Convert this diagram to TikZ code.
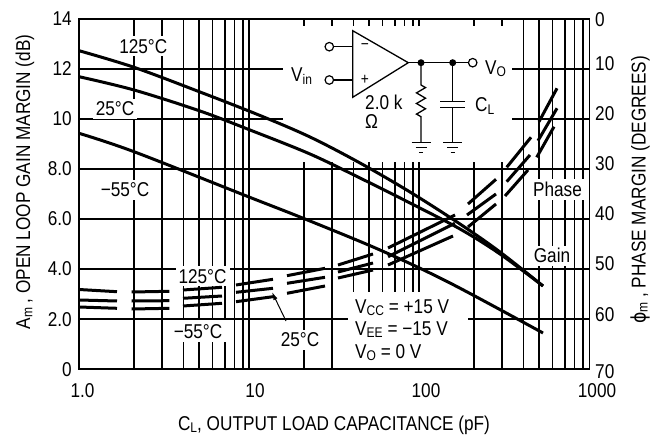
\documentclass[tikz,border=0pt]{standalone}
\usepackage{fontspec}
\setmainfont{Liberation Sans}[FakeStretch=0.86]
\newfontfamily\dvs{DejaVu Sans}[FakeStretch=0.86]
\usetikzlibrary{arrows.meta}
\newcommand\sbs[1]{\raisebox{-2.2pt}{\fontsize{14}{14}\selectfont #1}}
\begin{document}
\begin{tikzpicture}[x=1pt,y=-1pt,
  lbl/.style={font=\fontsize{20}{23}\selectfont, inner sep=0pt},
  msk/.style={lbl, fill=white, inner xsep=3pt, inner ysep=3pt},
  gridln/.style={line width=1.1pt},
  gaincurve/.style={line width=3pt},
  phasedash/.style={line width=3pt},
  wire/.style={line width=1.3pt},
  term/.style={circle, draw, fill=white, line width=1.2pt, minimum size=8.5pt, inner sep=0pt},
  jdot/.style={circle, fill=black, minimum size=7pt, inner sep=0pt}]
\useasboundingbox (0,0) rectangle (663,435);
\fill[white] (0,0) rectangle (663,435);

% grid
\foreach \b in {79,249,419}{
  \foreach \o in {55,83,104.5,120,133.5,146,155.5,164}{
    \draw[gridln] (\b+\o,19) -- (\b+\o,369);
  }
}
\foreach \x in {249,419} \draw[gridln] (\x,19) -- (\x,369);
\foreach \y in {69,119,169,219,269,319} \draw[gridln] (79,\y) -- (589,\y);

% masks for inset and conditions
\fill[white] (283,26) rectangle (512,162);
\fill[white] (348,292) rectangle (468,368);

% curve labels (opaque)
\node[msk, anchor=base] (l125a) at (143.3,53.3) {125°C};
\node[msk, anchor=base] (l25a) at (115,116) {25°C};
\node[msk, anchor=base] (l55a) at (125,196.7) {−55°C};
\node[msk, anchor=base] (lph) at (557.5,196.7) {Phase};
\node[msk, anchor=base] (lgn) at (552,263) {Gain};
\node[msk, anchor=base] (l125b) at (202.5,283.3) {125°C};
\node[msk, anchor=base, inner xsep=5pt, inner ysep=4pt] (l55b) at (198,338.3) {−55°C};
\node[msk, anchor=base] (l25b) at (300,346.7) {25°C};

% conditions
\node[lbl, anchor=base west] (vcc) at (355,313.7) {V\sbs{CC} = +15 V};
\node[lbl, anchor=base west] (vee) at (355,335.5) {V\sbs{EE} = −15 V};
\node[lbl, anchor=base west] (vo0) at (355,358.3) {V\sbs{O} = 0 V};

% gain curves
\draw[gaincurve] plot[smooth, tension=0.55] coordinates {(79,50.7) (134,67.3) (200,92) (260,115.5) (310,137) (360,163) (410,192) (460,224) (500,252) (543,286)};
\draw[gaincurve] plot[smooth, tension=0.55] coordinates {(79,76.7) (134,90) (200,111) (250,130) (310,154) (360,178) (410,203) (460,229) (500,254) (543,286)};
\draw[gaincurve] plot[smooth, tension=0.55] coordinates {(79,133.3) (134,151.7) (249,197) (305,219) (380,250) (450,283) (543,333)};

% phase curves (dashed)
\foreach \a/\b/\c/\d in {79/289.5/117/291.7, 131.7/292/169.3/291.3, 183/290/222/287.3, 236/285/273/279.3, 287/275.7/325/268.3, 338/265/373/254, 388/248/455/215, 468/204/496/179.3, 506.7/167.3/531/137.3, 539/121.7/557/88.3}
  \draw[phasedash] (\a,\b) -- (\c,\d);
\foreach \a/\b/\c/\d in {79/300/117/301, 131.7/301/169.3/300.7, 183/298.3/222/296, 236/292.3/273/288.3, 287/283.3/325/277.3, 338/272/373/263, 388/256.7/455/223.3, 467/215/496/194, 506.7/181.7/530/155, 538/140.7/557/108.3}
  \draw[phasedash] (\a,\b) -- (\c,\d);
\foreach \a/\b/\c/\d in {79/307/117/308.3, 131.7/309/169.3/308.3, 183/306/222/303.3, 236/301.7/273/296.7, 287/293.3/325/286, 338/278/373/270, 388/265/453/236, 468/227/496/204, 505/196/528/170, 536.7/157.3/554/126.7}
  \draw[phasedash] (\a,\b) -- (\c,\d);

% pointer for 25 C
\coordinate (pa) at (286,321);
\coordinate (pb) at (272,292);
\draw[line width=1pt, -{Latex[length=8pt,width=4.5pt]}] (pa) -- (pb);

% frame
\draw[line width=1.5pt] (79,19) -- (589.5,19) -- (589.5,369);
\draw[line width=2.2pt] (79,18.5) -- (79,369) -- (590.3,369);

% axis tick labels
\foreach \v/\y in {14/19,12/69,10/119,8.0/169,6.0/219,4.0/269,2.0/319,0/369}
  \node[lbl, anchor=base east] (yl\y) at (72,\y+7) {\v};
\foreach \v/\y in {0/20,10/64,20/114,30/164,40/214,50/264,60/314,70/371}
  \node[lbl, anchor=base west] (yr\v) at (595,\y+7) {\v};
\foreach \v/\x in {1.0/82.5,10/255,100/426,1000/597}
  \node[lbl, anchor=base] (xl\x) at (\x,397) {\v};

% axis titles
\node[lbl, anchor=base] (xt) at (334,430) {C\sbs{L}, OUTPUT LOAD CAPACITANCE (pF)};
\node[lbl, rotate=90] (ylt) at (25,182) {A\sbs{m} , OPEN LOOP GAIN MARGIN (dB)};
\node[lbl, rotate=90] (yrt) at (640,190) {{\dvs ϕ}\sbs{m} , PHASE MARGIN (DEGREES)};

% inset circuit
\coordinate (tA) at (352.7,30.7);
\coordinate (tB) at (352.7,97.3);
\coordinate (tip) at (408.3,62.7);
\draw[wire, line join=miter] (tA) -- (tip) -- (tB) -- cycle;
\node[term] (tin1) at (329.3,46.7) {};
\node[term] (tin2) at (329.3,80) {};
\coordinate (inm) at (352.7,46.7);
\coordinate (inp) at (352.7,80);
\draw[wire] (tin1) -- (inm);
\draw[wire] (tin2) -- (inp);
\node[jdot] (j1) at (421,62.7) {};
\node[jdot] (j2) at (452.7,62.7) {};
\node[term] (tout) at (472.7,62.7) {};
\draw[wire] (tip) -- (j1.center) -- (j2.center) -- (tout);
\draw[wire, line join=miter] (j1.center) -- (421,85) -- (425.5,87.6) -- (416.5,92.9) -- (425.5,98.2) -- (416.5,103.5) -- (425.5,108.8) -- (416.5,114.1) -- (421,116.7) -- (421,142.7);
\draw[wire] (j2.center) -- (452.7,101.7);
\draw[wire] (440,101.7) -- (465,101.7);
\draw[wire] (440,107.3) -- (465,107.3);
\draw[wire] (452.7,107.3) -- (452.7,142.7);
\foreach \gx in {421,452.7}{
  \draw[wire] (\gx-9.5,142.7) -- (\gx+9.5,142.7);
  \draw[wire] (\gx-5.5,147.7) -- (\gx+5.5,147.7);
  \draw[wire] (\gx-2.2,152.7) -- (\gx+2.2,152.7);
}
\node[lbl, font=\fontsize{16}{18}\selectfont] (minus) at (365,46.7) {−};
\node[lbl, font=\fontsize{16}{18}\selectfont] (plus) at (365,80) {+};
\node[lbl, anchor=base west] (vin) at (291,82) {V\sbs{in}};
\node[lbl, anchor=base west] (vout) at (485,74.5) {V\sbs{O}};
\node[lbl, anchor=base west] (cl) at (475,112) {C\sbs{L}};
\node[lbl, anchor=base west] (rk) at (365,110) {2.0 k};
\node[lbl, anchor=base west] (rom) at (365,128.5) {Ω};
\end{tikzpicture}
\end{document}
